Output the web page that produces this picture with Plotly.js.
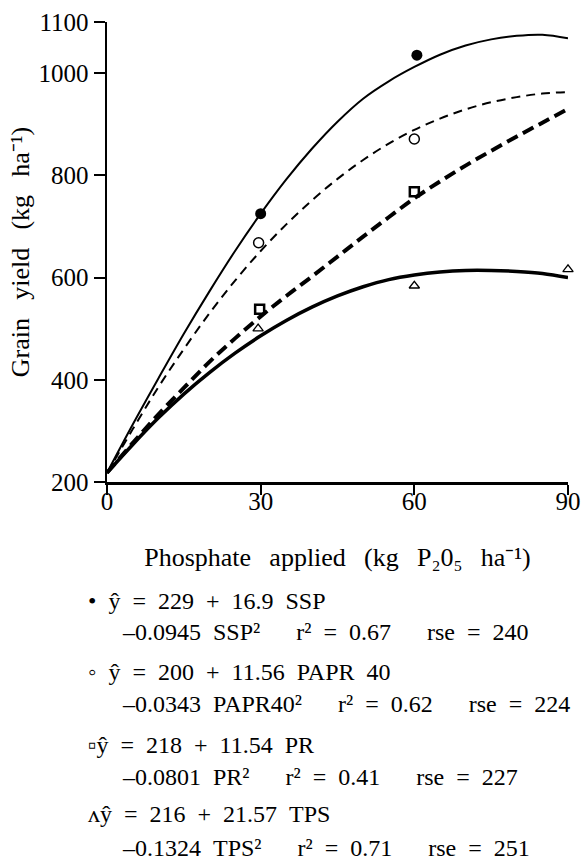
<!DOCTYPE html>
<html><head><meta charset="utf-8">
<script src="https://cdn.plot.ly/plotly-3.0.1.min.js"></script>
<style>
html,body{margin:0;padding:0;background:#fff;}
#chart{width:585px;height:868px;}
#chart text, #chart tspan { font-family: 'Liberation Serif', 'Times New Roman', serif !important; }
</style></head><body>
<div id="chart"></div>
<script>
// ---- data ----
const xTicks = [0, 30, 60, 90];
const yTicks = [200, 400, 600, 800, 1000, 1100];

// observed points
const sspX = [30, 60.5, 90.3];   const sspY = [725, 1035, 1053];
const paprX = [29.6, 60, 90.5];  const paprY = [668, 871, 975];
const prX = [29.8, 60, 90.5];    const prY = [538, 768, 926];
const tpsX = [29.5, 60, 90];     const tpsY = [500, 584, 616];

// fitted curves
const curveX = [0, 5, 10, 15, 20, 25, 30, 35, 40, 45, 50, 55, 60, 65, 70, 75, 80, 85, 90];
const sspCurveY  = [218, 312, 402, 490, 573, 652, 725, 792, 852, 905, 950, 984, 1012, 1036, 1054, 1066, 1073, 1075, 1068];
const paprCurveY = [217, 303, 385, 460, 530, 594, 652, 704, 751, 793, 830, 862, 889, 911, 929, 943, 953, 960, 963];
const prCurveY   = [218, 276, 332, 384, 435, 481, 524, 564, 602, 641, 680, 718, 755, 788, 819, 848, 876, 903, 930];
const tpsCurveY  = [218, 273, 325, 372, 414, 452, 486, 516, 542, 564, 582, 596, 605, 611, 614, 614, 612, 608, 600];

// text (plain Unicode super/subscripts)
const xTitle = "Phosphate applied (kg P₂0₅ ha⁻¹)";
const yTitle = "Grain yield (kg ha⁻¹)";
const eqLines = [
  "• ŷ = 229 + 16.9 SSP",
  "–0.0945 SSP²  r² = 0.67  rse = 240",
  "◦ ŷ = 200 + 11.56 PAPR 40",
  "–0.0343 PAPR40²  r² = 0.62  rse = 224",
  "▫ŷ = 218 + 11.54 PR",
  "–0.0801 PR²  r² = 0.41  rse = 227",
  "ʌŷ = 216 + 21.57 TPS",
  "–0.1324 TPS²  r² = 0.71  rse = 251"
];

// ---- drawing ----
const FONT = "Liberation Serif";
const W = 585, H = 868;
const M = {l: 107, r: 17, t: 22, b: 386};
const PW = W - M.l - M.r, PH = H - M.t - M.b;
const px2paperX = p => (p - M.l) / PW;
const py2paperY = p => (H - M.b - p) / PH;
// wide word gaps of the scanned typesetting
const wide = s => s.replace(/  /g, "\u2003\u2002").replace(/ /g, "\u2002");
const wideTitle = s => s.replace(/ /g, "\u2002\u2009");

function curve(x, y, width, dash) {
  return {x: x, y: y, mode: 'lines', type: 'scatter', hoverinfo: 'skip',
    line: {color: '#000', width: width, dash: dash, shape: 'spline', smoothing: 1},
    cliponaxis: false, showlegend: false};
}
function pts(x, y, symbol, size, lw) {
  return {x: x, y: y, mode: 'markers', type: 'scatter',
    marker: {symbol: symbol, size: size, color: '#000', line: {color: '#000', width: lw}},
    cliponaxis: false, showlegend: false};
}

function forceSerif() {
  document.querySelectorAll('#chart text, #chart tspan').forEach(t => {
    t.style.setProperty('font-family', "'Liberation Serif', 'Times New Roman', serif", 'important');
  });
}

function draw() {
  const traces = [
    curve(curveX, sspCurveY, 2, 'solid'),
    curve(curveX, paprCurveY, 2, '9px,6px'),
    curve(curveX, prCurveY, 4, '12px,6px'),
    curve(curveX, tpsCurveY, 3.5, 'solid'),
    pts(sspX, sspY, 'circle', 11, 0),
    pts(paprX, paprY, 'circle-open', 10, 1.5),
    pts(prX, prY, 'square-open', 9, 2.5),
    pts(tpsX, tpsY, 'triangle-up-open', 9, 1.3)
  ];

  const eqPx = [86, 120, 86, 120, 86, 120, 86, 120];
  const eqPy = [601, 632, 672, 704, 745, 777, 814, 848];
  const annotations = eqLines.map((t, i) => ({
    text: wide(t), xref: 'paper', yref: 'paper',
    x: px2paperX(eqPx[i]), y: py2paperY(eqPy[i]),
    xanchor: 'left', yanchor: 'middle', showarrow: false,
    font: {family: FONT, size: 24, color: '#000'}
  }));

  const axisCommon = {
    showgrid: false, zeroline: false, showline: true, linecolor: '#000', linewidth: 2.5,
    ticks: 'outside', tickcolor: '#000', tickwidth: 2,
    tickfont: {family: FONT, size: 25, color: '#000'}, fixedrange: true
  };

  const layout = {
    width: W, height: H, margin: M, paper_bgcolor: '#fff', plot_bgcolor: '#fff',
    showlegend: false,
    font: {family: FONT, color: '#000'},
    xaxis: Object.assign({}, axisCommon, {
      range: [0, 90], tickmode: 'array', tickvals: xTicks, ticktext: xTicks.map(String),
      ticklen: 10, ticklabelstandoff: -15,
      title: {text: wideTitle(xTitle), font: {family: FONT, size: 26, color: '#000'}, standoff: 35}
    }),
    yaxis: Object.assign({}, axisCommon, {
      range: [200, 1100], tickmode: 'array', tickvals: yTicks, ticktext: yTicks.map(String),
      ticklen: 11,
      title: {text: wideTitle(yTitle), font: {family: FONT, size: 26, color: '#000'}, standoff: 2}
    }),
    annotations: annotations
  };

  const p = Plotly.newPlot('chart', traces, layout, {staticPlot: true, displayModeBar: false});
  forceSerif();
  if (p && p.then) p.then(forceSerif);
}

draw();
if (document.fonts && document.fonts.ready) {
  document.fonts.ready.then(draw, function () {});
}
</script></body></html>
